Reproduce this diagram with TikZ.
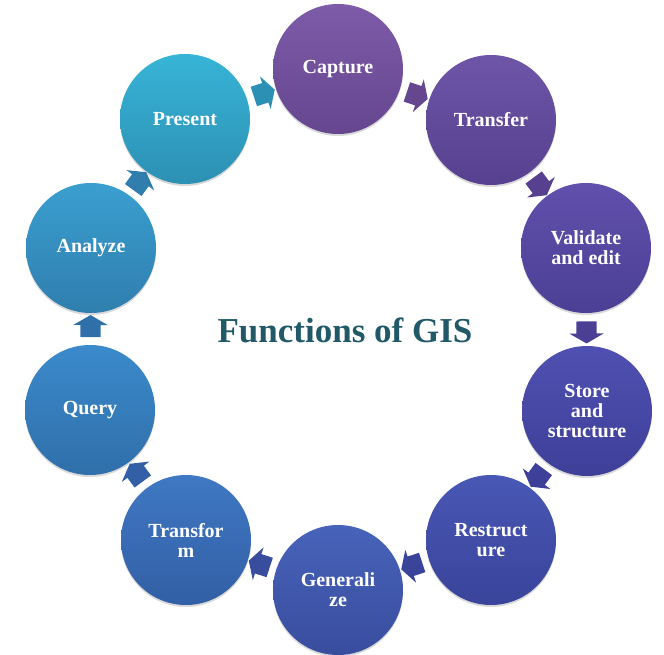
\documentclass[tikz,border=0pt]{standalone}
\usepackage{fontspec}
\setmainfont{Liberation Serif}
\usetikzlibrary{shapes.arrows,shadows}

\definecolor{captureTop}{HTML}{7E5BA9}\definecolor{captureBot}{HTML}{65468F}
\definecolor{transferTop}{HTML}{6E55A8}\definecolor{transferBot}{HTML}{57408F}
\definecolor{validateTop}{HTML}{6150AC}\definecolor{validateBot}{HTML}{4B3F95}
\definecolor{storeTop}{HTML}{5050B2}\definecolor{storeBot}{HTML}{3E3F98}
\definecolor{restructTop}{HTML}{4957B5}\definecolor{restructBot}{HTML}{39449A}
\definecolor{generalTop}{HTML}{4763BA}\definecolor{generalBot}{HTML}{394D9E}
\definecolor{transformTop}{HTML}{3F78C3}\definecolor{transformBot}{HTML}{325FA5}
\definecolor{queryTop}{HTML}{3B8ACB}\definecolor{queryBot}{HTML}{2F6FAA}
\definecolor{analyzeTop}{HTML}{3A9FD0}\definecolor{analyzeBot}{HTML}{2F7EAE}
\definecolor{presentTop}{HTML}{37B4D6}\definecolor{presentBot}{HTML}{2C90B4}
\definecolor{titleTeal}{HTML}{215968}

\tikzstyle{stage} = [circle, minimum size=130pt, inner sep=0pt, align=center, text=white, font=\fontsize{20}{20}\selectfont\bfseries, drop shadow={shadow xshift=0pt, shadow yshift=-2pt, opacity=0.3}]
\tikzstyle{cyclearrow} = [single arrow, minimum height=22pt, inner xsep=0pt, inner ysep=10pt, single arrow head extend=7pt, single arrow tip angle=120, sloped, allow upside down]

\begin{document}
\begin{tikzpicture}[x=1pt, y=-1pt]
	\useasboundingbox (0,0) rectangle (664,655);

	\node (capture) [stage, top color=captureTop, bottom color=captureBot] at (338,69) {Capture};
	\node (transfer) [stage, top color=transferTop, bottom color=transferBot] at (491,120) {Transfer};
	\node (validate) [stage, top color=validateTop, bottom color=validateBot] at (586,248) {Validate\\and edit};
	\node (store) [stage, top color=storeTop, bottom color=storeBot] at (587,411) {Store\\and\\structure};
	\node (restructure) [stage, top color=restructTop, bottom color=restructBot] at (491,540) {Restruct\\ure};
	\node (generalize) [stage, top color=generalTop, bottom color=generalBot] at (338,590) {Generali\\ze};
	\node (transform) [stage, top color=transformTop, bottom color=transformBot] at (186,540) {Transfor\\m};
	\node (query) [stage, top color=queryTop, bottom color=queryBot] at (90,410) {Query};
	\node (analyze) [stage, top color=analyzeTop, bottom color=analyzeBot] at (91,248) {Analyze};
	\node (present) [stage, top color=presentTop, bottom color=presentBot] at (185,119) {Present};

	\node (title) [text=titleTeal, font=\fontsize{35}{40}\selectfont\bfseries] at (345,330) {Functions of GIS};

	\path (capture) -- (transfer) node [cyclearrow, midway, fill=captureBot] {};
	\path (transfer) -- (validate) node [cyclearrow, midway, fill=transferBot] {};
	\path (validate) -- (store) node [cyclearrow, midway, fill=validateBot] {};
	\path (store) -- (restructure) node [cyclearrow, midway, fill=storeBot] {};
	\path (restructure) -- (generalize) node [cyclearrow, midway, fill=restructBot] {};
	\path (generalize) -- (transform) node [cyclearrow, midway, fill=generalBot] {};
	\path (transform) -- (query) node [cyclearrow, midway, fill=transformBot] {};
	\path (query) -- (analyze) node [cyclearrow, midway, fill=queryBot] {};
	\path (analyze) -- (present) node [cyclearrow, midway, fill=analyzeBot] {};
	\path (present) -- (capture) node [cyclearrow, midway, fill=presentBot] {};

\end{tikzpicture}
\end{document}
